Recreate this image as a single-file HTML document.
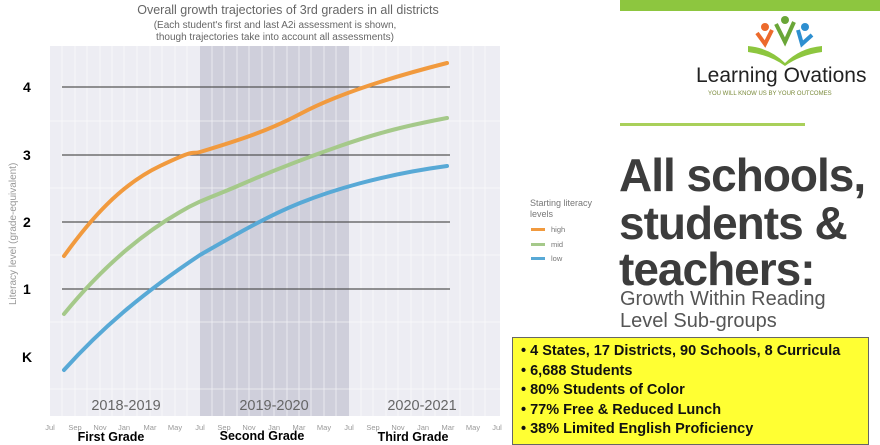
<!DOCTYPE html>
<html><head><meta charset="utf-8"><style>
body{margin:0;width:880px;height:443px;background:#fff;overflow:hidden;position:relative;font-family:"Liberation Sans",sans-serif}
.big{position:absolute;left:619px;font-weight:bold;color:#3c3c3c;font-size:46px;line-height:47px;letter-spacing:-1px;white-space:nowrap}
.sub{position:absolute;left:620px;color:#555;font-size:20px;line-height:22px;white-space:nowrap}
.box{position:absolute;left:512px;top:337px;width:357px;height:108px;background:#ffff33;border:1px solid #666;box-sizing:border-box;padding:4px 0 0 8px;font-weight:bold;font-size:14.5px;line-height:19.5px;color:#111;white-space:nowrap}
</style></head><body>
<svg width="880" height="443" style="position:absolute;left:0;top:0">
<rect x="50" y="46" width="450" height="370" fill="#ededf3"/>
<rect x="200" y="46" width="149" height="370" fill="#cfcfdb"/>
<g stroke="#fff" stroke-width="0.8" opacity="0.7">
<path d="M62 46V416M75 46V416M87 46V416M100 46V416M112 46V416M124 46V416M137 46V416M150 46V416M162 46V416M175 46V416M187 46V416M212 46V416M224 46V416M237 46V416M249 46V416M262 46V416M274 46V416M287 46V416M299 46V416M311 46V416M324 46V416M336 46V416M361 46V416M373 46V416M386 46V416M398 46V416M411 46V416M423 46V416M435 46V416M448 46V416M460 46V416M473 46V416M485 46V416"/>
<path d="M30 121H520M30 188H520M30 255H520M30 322H520M30 389H520"/>
</g>
<g stroke="#555" stroke-width="1.3">
<path d="M62 87H450M62 155H450M62 222H450M62 289H450"/>
</g>
<g fill="none" stroke-width="4" stroke-linecap="round">
<path d="M64 256C90 220 120 185 160 166S190 155 200 152C240 140 270 130 300 114S380 80 447 63" stroke="#f19a3e"/>
<path d="M64 314C100 270 140 235 180 212C200 200 215 196 240 185S300 160 340 146S410 125 447 118" stroke="#a5c98a"/>
<path d="M64 370C100 330 140 295 200 255C240 232 270 215 300 203S380 175 447 166" stroke="#58a9d6"/>
</g>
<g font-family="Liberation Sans,sans-serif" fill="#000" font-weight="bold" font-size="14">
<text x="23" y="92">4</text><text x="23" y="160">3</text><text x="23" y="227">2</text><text x="23" y="294">1</text><text x="22" y="362">K</text>
</g>
<text x="0" y="0" transform="translate(16,305) rotate(-90)" font-size="10" fill="#999">Literacy level (grade-equivalent)</text>
<g fill="#666" text-anchor="middle">
<text x="288" y="14" font-size="12.5">Overall growth trajectories of 3rd graders in all districts</text>
<text x="275" y="28" font-size="10">(Each student's first and last A2i assessment is shown,</text>
<text x="275" y="40" font-size="10">though trajectories take into account all assessments)</text>
<text x="126" y="410" font-size="14.5">2018-2019</text>
<text x="274" y="410" font-size="14.5">2019-2020</text>
<text x="422" y="410" font-size="14.5">2020-2021</text>
</g>
<g fill="#999" font-size="7.5" text-anchor="middle">
<text x="50" y="430">Jul</text><text x="75" y="430">Sep</text><text x="100" y="430">Nov</text><text x="124" y="430">Jan</text><text x="150" y="430">Mar</text><text x="175" y="430">May</text><text x="200" y="430">Jul</text><text x="224" y="430">Sep</text><text x="249" y="430">Nov</text><text x="274" y="430">Jan</text><text x="299" y="430">Mar</text><text x="324" y="430">May</text><text x="349" y="430">Jul</text><text x="373" y="430">Sep</text><text x="398" y="430">Nov</text><text x="423" y="430">Jan</text><text x="448" y="430">Mar</text><text x="473" y="430">May</text><text x="497" y="430">Jul</text>
</g>
<g font-weight="bold" font-size="12.5" fill="#000" text-anchor="middle">
<text x="111" y="441">First Grade</text><text x="262" y="440">Second Grade</text><text x="413" y="441">Third Grade</text>
</g>
<g font-size="9" fill="#777">
<text x="530" y="206">Starting literacy</text><text x="530" y="217">levels</text>
<text x="551" y="232" font-size="7.5">high</text><text x="551" y="247" font-size="7.5">mid</text><text x="551" y="261" font-size="7.5">low</text>
</g>
<rect x="531" y="228" width="14" height="3" fill="#f19a3e"/>
<rect x="531" y="243" width="14" height="3" fill="#a5c98a"/>
<rect x="531" y="257" width="14" height="3" fill="#58a9d6"/>
<rect x="620" y="0" width="260" height="11" fill="#8dc63f"/>
<rect x="620" y="123" width="185" height="3" fill="#a9d05a"/>
<g>
<circle cx="765" cy="27" r="4" fill="#ec6a2c"/><path d="M757 33L765 44L772 30" stroke="#ec6a2c" stroke-width="4" fill="none"/>
<circle cx="785" cy="20" r="4" fill="#6aa637"/><path d="M776 24L785 42L794 22" stroke="#6aa637" stroke-width="4" fill="none"/>
<circle cx="805" cy="27" r="4" fill="#2e8fd0"/><path d="M798 30L802 44L812 35" stroke="#2e8fd0" stroke-width="4" fill="none"/>
<path d="M748 46Q770 48 785 63Q800 48 822 46L822 52Q800 55 785 66Q770 55 748 52Z" fill="#8dc63f"/>
</g>
<text x="696" y="82" font-size="21" fill="#222" font-family="Liberation Sans,sans-serif">Learning Ovations</text>
<text x="708" y="95" font-size="6" fill="#7a8a3a">YOU WILL KNOW US BY YOUR OUTCOMES</text>
</svg>
<div class="big" style="top:152px">All schools,</div>
<div class="big" style="top:200px">students &amp;</div>
<div class="big" style="top:246px">teachers:</div>
<div class="sub" style="top:288px">Growth Within Reading</div>
<div class="sub" style="top:310px">Level Sub-groups</div>
<div class="box">• 4 States, 17 Districts, 90 Schools, 8 Curricula<br>• 6,688 Students<br>• 80% Students of Color<br>• 77% Free &amp; Reduced Lunch<br>• 38% Limited English Proficiency</div>
</body></html>
